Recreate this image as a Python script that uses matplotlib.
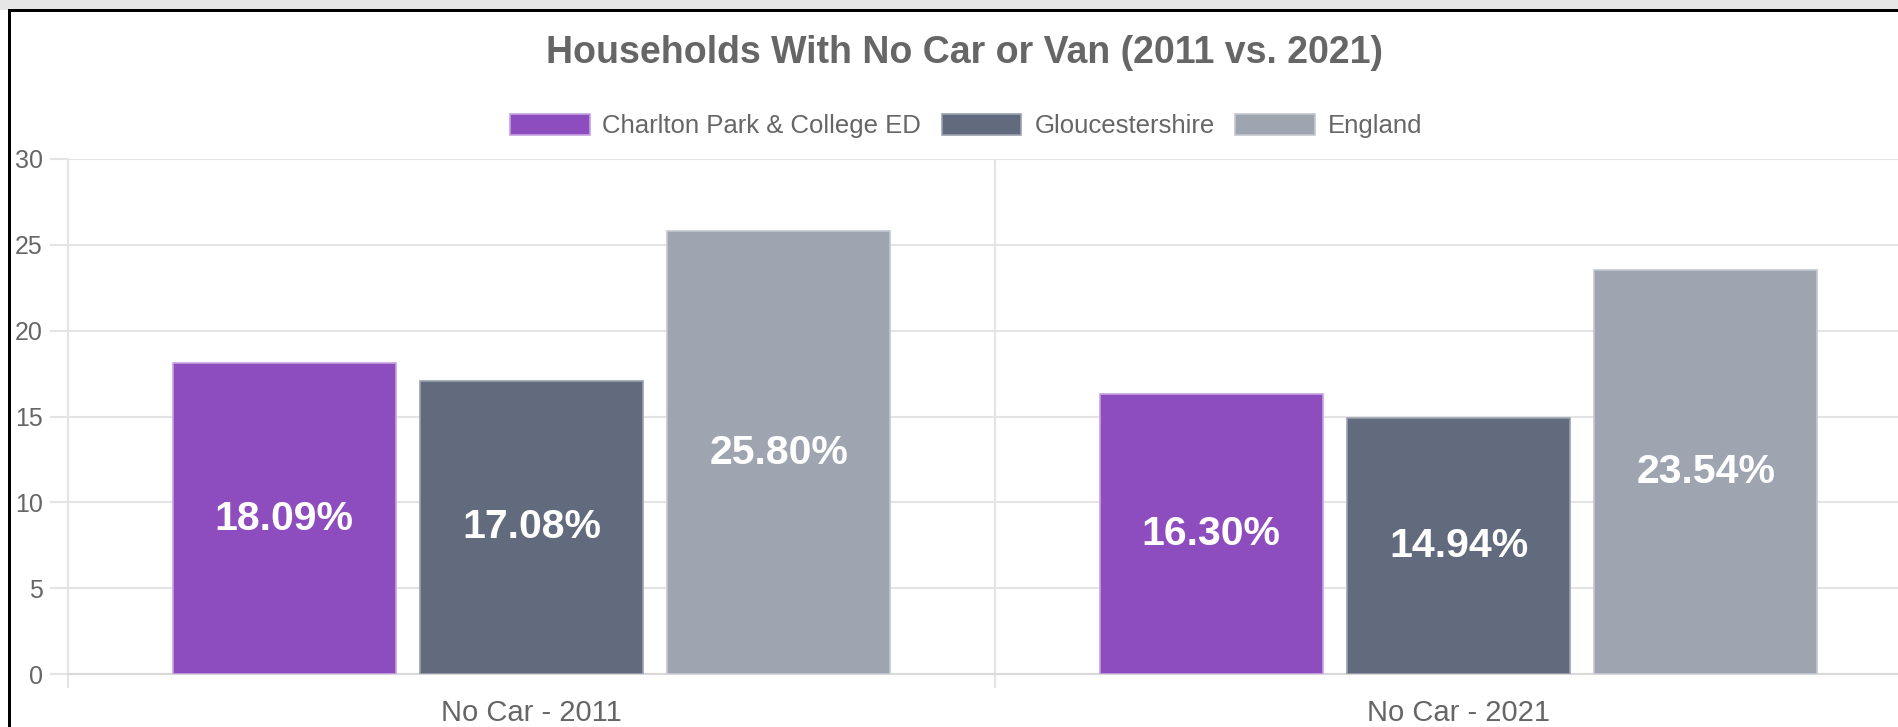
import matplotlib.pyplot as plt
from matplotlib.patches import Rectangle
import numpy as np

plt.rcParams['font.family'] = ['Liberation Sans', 'DejaVu Sans']

categories = ['No Car - 2011', 'No Car - 2021']
series = ['Charlton Park & College ED', 'Gloucestershire', 'England']
values = [
    [18.09, 16.30],
    [17.08, 14.94],
    [25.80, 23.54],
]
colors = ['#8E4DBE', '#616B7D', '#9EA5B1']
edge_colors = ['#C6A3E0', '#9AA2AF', '#C4C8D0']
yticks = [0, 5, 10, 15, 20, 25, 30]

W, H = 1898, 727
fig = plt.figure(figsize=(W / 100, H / 100), dpi=100)

# screenshot frame: grey strip on top, black border left/top
fig.patches.append(Rectangle((0, (H - 10) / H), 1, 10 / H, transform=fig.transFigure,
                             facecolor='#e6e6e6', edgecolor='none'))
fig.patches.append(Rectangle((8 / W, 0), 2.5 / W, (H - 10) / H, transform=fig.transFigure,
                             facecolor='black', edgecolor='none'))
fig.patches.append(Rectangle((8 / W, (H - 12) / H), 1 - 8 / W, 2.5 / H, transform=fig.transFigure,
                             facecolor='black', edgecolor='none'))

# axes run past the right edge (chart is cropped in the screenshot)
left, right, top, bottom = 68, 1922, 159, 674
ax = fig.add_axes([left / W, (H - bottom) / H, (right - left) / W, (bottom - top) / H])

x = np.arange(len(categories))
slot = 0.8 / len(series)
width = slot * 0.9
for i, (name, vals) in enumerate(zip(series, values)):
    pos = x + (i - 1) * slot
    ax.bar(pos, vals, width, color=colors[i], edgecolor=edge_colors[i], linewidth=1.2,
           label=name, zorder=3)
    for p, v in zip(pos, vals):
        ax.text(p, v / 2, f'{v:.2f}%', ha='center', va='center', color='white',
                fontsize=29.5, fontweight='bold', zorder=4)

grid_c = '#e4e4e4'
ax.set_xlim(-0.5, 1.5)
ax.set_ylim(0, 30)
ax.set_yticks(yticks)
ax.set_xticks(x)
ax.set_xticklabels(categories)
ax.set_xticks([-0.5, 0.5, 1.5], minor=True)
ax.grid(axis='y', color=grid_c, linewidth=1.5, zorder=0)
ax.grid(axis='x', which='minor', color=grid_c, linewidth=1.5, zorder=0)
ax.tick_params(axis='y', length=13, width=1.5, color=grid_c, pad=5,
               labelsize=18, labelcolor='#666666')
ax.tick_params(axis='x', which='major', length=0, pad=18, labelsize=21, labelcolor='#666666')
ax.tick_params(axis='x', which='minor', length=10, width=1.5, color=grid_c)
for s in ['top', 'right']:
    ax.spines[s].set_visible(False)
ax.spines['left'].set_color(grid_c)
ax.spines['left'].set_linewidth(1.5)
ax.spines['bottom'].set_color('#d9d9d9')
ax.spines['bottom'].set_linewidth(1.5)

fig.text(965 / W, (H - 53) / H, 'Households With No Car or Van (2011 vs. 2021)',
         ha='center', va='center', fontsize=27, fontweight='bold', color='#666666')

fig.legend(loc='center', bbox_to_anchor=(966 / W, (H - 126) / H), ncol=3, frameon=False,
           fontsize=18.5, labelcolor='#666666', handlelength=3.1, handleheight=0.9,
           handletextpad=0.5, columnspacing=0.8)

fig.savefig('out.png', dpi=100, facecolor='white')
